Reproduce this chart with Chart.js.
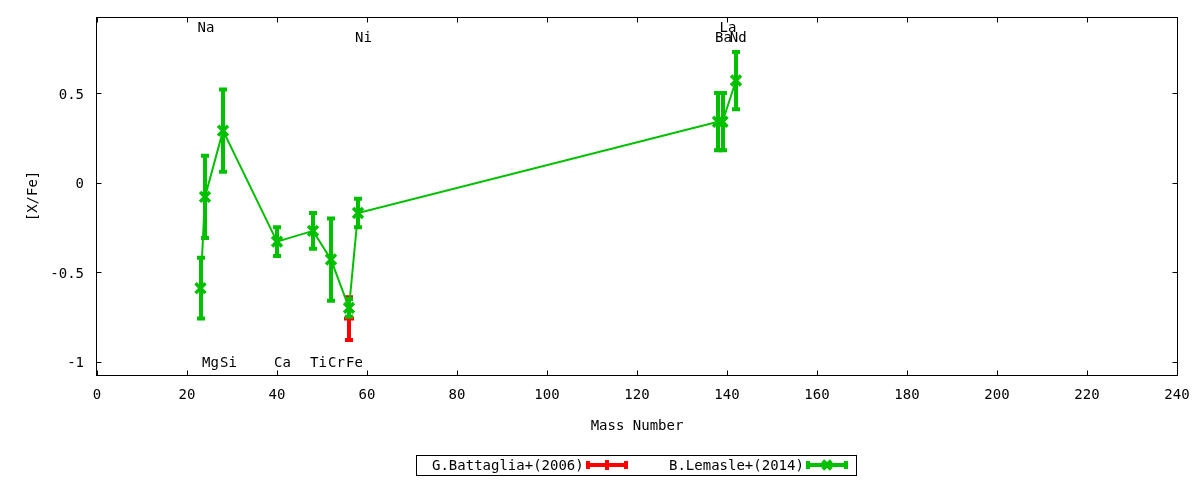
<!DOCTYPE html>
<html>
<head>
    <meta charset="utf-8" />
    <title>[X/Fe] vs Mass Number</title>
    <!-- Chart.js -->
    <script src="https://cdn.jsdelivr.net/npm/chart.js@4.4.1/dist/chart.umd.min.js"></script>
    <style>
        html, body { margin: 0; padding: 0; background: #fff; }
    </style>
</head>
<body>
    <canvas id="myChart" width="1200" height="480"></canvas>

<script>

// element labels and their mass numbers
var elements = ['Na', 'Mg', 'Si', 'Ca', 'Ti', 'Cr', 'Fe', 'Ni', 'Ba', 'La', 'Nd'];
var massNumbers = [23, 24, 28, 40, 48, 52, 56, 58, 138, 139, 142];

// B.Lemasle+(2014)
var lemasleValues = [-0.59, -0.08, 0.29, -0.33, -0.27, -0.43, -0.70, -0.17, 0.34, 0.34, 0.57];
var lemasleErrors = [0.17, 0.23, 0.23, 0.08, 0.10, 0.23, 0.05, 0.08, 0.16, 0.16, 0.16];

// G.Battaglia+(2006)
var battagliaMass = [56];
var battagliaValues = [-0.76];
var battagliaErrors = [0.12];

// where the element names sit (data units)
var labelX = [23, 24, 28, 40, 48, 52, 56, 58, 138, 139, 141.3];
var labelY = [0.87, -1.0, -1.0, -1.0, -1.0, -1.0, -1.0, 0.815, 0.815, 0.87, 0.815];

var xTicks = [0, 20, 40, 60, 80, 100, 120, 140, 160, 180, 200, 220, 240];
var yTicks = [-1, -0.5, 0, 0.5];

var RED = '#ff0000';
var GREEN = '#00c000';
var FONT = "'DejaVu Sans Mono', monospace";

function toPoints(xs, ys) {
    var pts = [];
    for (var i = 0; i < xs.length; i++) {
        pts.push({x: xs[i], y: ys[i]});
    }
    return pts;
}

//===========================================================
// gnuplot look: error bars, inward ticks, labels, legend
//===========================================================
function drawErrorBars(ctx, ds, xScale, yScale) {
    var errs = ds.errorValues;
    ctx.save();
    ctx.strokeStyle = ds.borderColor;
    ctx.lineWidth = 4;
    ctx.lineCap = 'butt';
    for (var i = 0; i < ds.data.length; i++) {
        var px = Math.round(xScale.getPixelForValue(ds.data[i].x));
        var top = yScale.getPixelForValue(ds.data[i].y + errs[i]);
        var bot = yScale.getPixelForValue(ds.data[i].y - errs[i]);
        ctx.beginPath();
        ctx.moveTo(px, top - 2);
        ctx.lineTo(px, bot + 2);
        ctx.moveTo(px - 4, top);
        ctx.lineTo(px + 4, top);
        ctx.moveTo(px - 4, bot);
        ctx.lineTo(px + 4, bot);
        ctx.stroke();
    }
    ctx.restore();
}

function legendSample(ctx, x1, x2, y, color, style, radius, width) {
    ctx.save();
    ctx.strokeStyle = color;
    ctx.lineWidth = 4;
    ctx.beginPath();
    ctx.moveTo(x1, y);
    ctx.lineTo(x2, y);
    ctx.moveTo(x1 + 2, y - 4);
    ctx.lineTo(x1 + 2, y + 4);
    ctx.moveTo(x2 - 2, y - 4);
    ctx.lineTo(x2 - 2, y + 4);
    ctx.stroke();
    Chart.helpers.drawPoint(ctx, {pointStyle: style, radius: radius, borderWidth: width, rotation: 0}, (x1 + x2) / 2, y);
    ctx.restore();
}

var gnuplotPlugin = {
    id: 'gnuplotLook',
    beforeDatasetDraw: function(chart, args) {
        var ds = chart.data.datasets[args.index];
        drawErrorBars(chart.ctx, ds, chart.scales.x, chart.scales.y);
    },
    afterDraw: function(chart) {
        var ctx = chart.ctx;
        var a = chart.chartArea;
        var xs = chart.scales.x, ys = chart.scales.y;
        var L = Math.round(a.left) - 0.5, R = Math.round(a.right) + 0.5;
        var T = Math.round(a.top) + 0.5, B = Math.round(a.bottom) + 0.5;

        ctx.save();
        ctx.strokeStyle = '#000';
        ctx.lineWidth = 1;
        ctx.strokeRect(L, T, R - L, B - T);

        // inward + mirrored tick marks
        ctx.beginPath();
        xTicks.forEach(function(v) {
            var px = Math.round(xs.getPixelForValue(v)) + 0.5;
            ctx.moveTo(px, B); ctx.lineTo(px, B - 5);
            ctx.moveTo(px, T); ctx.lineTo(px, T + 5);
        });
        yTicks.forEach(function(v) {
            var py = Math.round(ys.getPixelForValue(v)) + 0.5;
            ctx.moveTo(L, py); ctx.lineTo(L + 5, py);
            ctx.moveTo(R, py); ctx.lineTo(R - 5, py);
        });
        ctx.stroke();

        // element names
        ctx.fillStyle = '#000';
        ctx.font = '14px ' + FONT;
        ctx.textAlign = 'left';
        ctx.textBaseline = 'middle';
        for (var i = 0; i < elements.length; i++) {
            ctx.fillText(elements[i], xs.getPixelForValue(labelX[i]) - 3, ys.getPixelForValue(labelY[i]) + 2);
        }

        // axis titles
        ctx.textAlign = 'center';
        ctx.fillText('Mass Number', (a.left + a.right) / 2, 426.5);
        ctx.save();
        ctx.translate(33, (a.top + a.bottom) / 2);
        ctx.rotate(-Math.PI / 2);
        ctx.fillText('[X/Fe]', 0, 0);
        ctx.restore();

        // legend box
        ctx.strokeRect(416.5, 455.5, 440, 20);
        ctx.textAlign = 'left';
        ctx.fillText(chart.data.datasets[0].label, 432, 466);
        ctx.fillText(chart.data.datasets[1].label, 669, 466);
        legendSample(ctx, 586, 628, 465, RED, 'cross', 5, 4);
        legendSample(ctx, 806, 848, 465, GREEN, 'crossRot', 6, 3);
        ctx.restore();
    }
};

Chart.defaults.font.family = FONT;
Chart.defaults.font.size = 14;
Chart.defaults.color = '#000';

var ctx = document.getElementById('myChart').getContext('2d');
var chart = new Chart(ctx, {
    type: 'scatter',
    data: {
        datasets: [{
            label: 'G.Battaglia+(2006)',
            data: toPoints(battagliaMass, battagliaValues),
            errorValues: battagliaErrors,
            borderColor: RED,
            backgroundColor: RED,
            pointStyle: 'cross',
            pointRadius: 5,
            pointBorderWidth: 4,
            showLine: false,
            order: 2
        },
        {
            label: 'B.Lemasle+(2014)',
            data: toPoints(massNumbers, lemasleValues),
            errorValues: lemasleErrors,
            borderColor: GREEN,
            backgroundColor: GREEN,
            borderWidth: 2,
            pointStyle: 'crossRot',
            pointRadius: 7,
            pointBorderWidth: 3.5,
            showLine: true,
            order: 1
        }]
    },
    options: {
        responsive: false,
        animation: false,
        clip: false,
        layout: { padding: { left: 0, right: 23, top: 17, bottom: 0 } },
        plugins: {
            legend: { display: false },
            tooltip: { enabled: false }
        },
        scales: {
            x: {
                type: 'linear',
                min: 0,
                max: 240,
                grid: { display: false, drawTicks: false, tickLength: 0 },
                border: { display: false },
                afterBuildTicks: function(axis) {
                    axis.ticks = xTicks.map(function(v) { return {value: v}; });
                },
                afterFit: function(axis) {
                    axis.height = 105;
                    axis.paddingLeft = 0;
                    axis.paddingRight = 0;
                },
                ticks: {
                    padding: 12,
                    maxRotation: 0,
                    autoSkip: false,
                    callback: function(v) { return String(v); }
                }
            },
            y: {
                type: 'linear',
                min: -1.075,
                max: 0.925,
                grid: { display: false, drawTicks: false, tickLength: 0 },
                border: { display: false },
                afterBuildTicks: function(axis) {
                    axis.ticks = yTicks.map(function(v) { return {value: v}; });
                },
                afterFit: function(axis) {
                    axis.width = 97;
                    axis.paddingTop = 0;
                    axis.paddingBottom = 0;
                },
                ticks: {
                    padding: 13,
                    labelOffset: 2,
                    autoSkip: false,
                    callback: function(v) { return String(v); }
                }
            }
        }
    },
    plugins: [gnuplotPlugin]
});

</script>
</body>
</html>
